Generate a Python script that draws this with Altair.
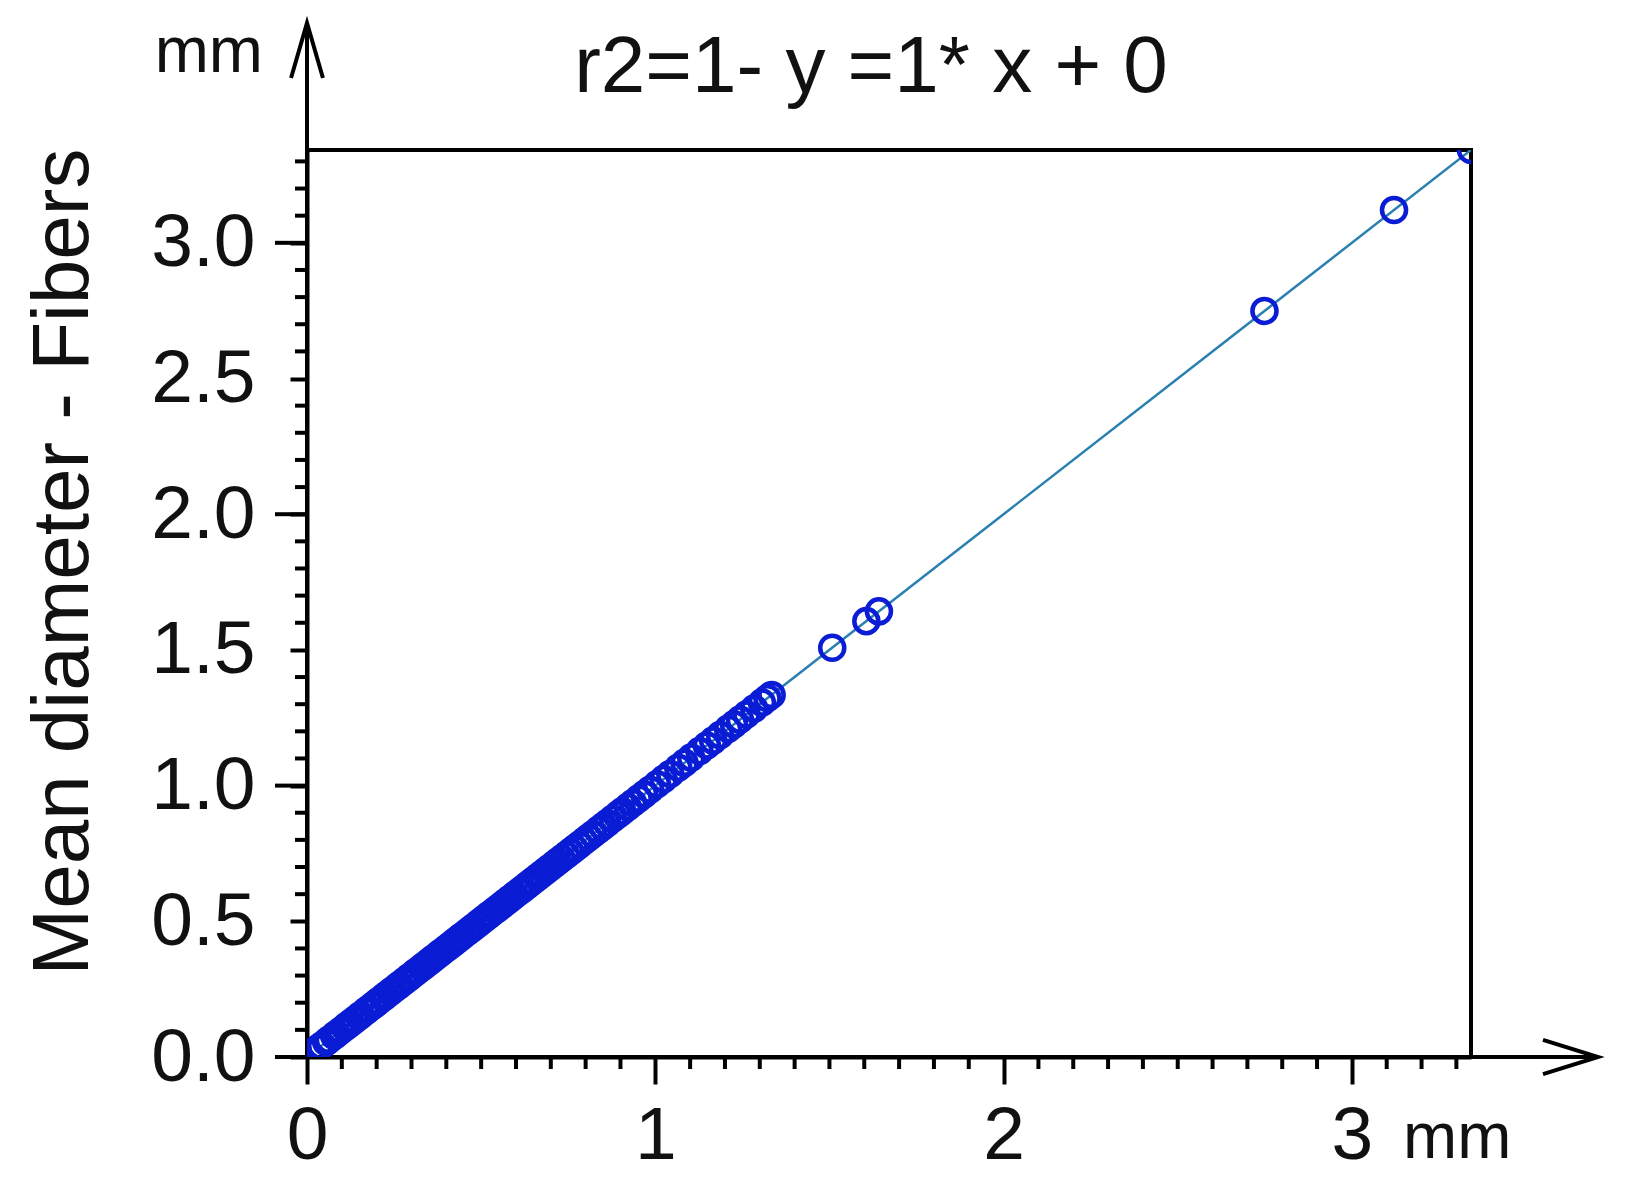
import altair as alt
import pandas as pd

# ---- data (mm) ----
x_mm = [0.032, 0.041, 0.055, 0.063, 0.078, 0.085, 0.097, 0.110, 0.118, 0.126,
        0.137, 0.149, 0.155, 0.168, 0.176, 0.189, 0.197, 0.205, 0.218, 0.226,
        0.238, 0.247, 0.259, 0.266, 0.278, 0.289, 0.296, 0.308, 0.317, 0.329,
        0.336, 0.348, 0.357, 0.366, 0.378, 0.386, 0.397, 0.408, 0.419, 0.427,
        0.438, 0.446, 0.459, 0.468, 0.477, 0.489, 0.497, 0.508, 0.519, 0.527,
        0.539, 0.548, 0.559, 0.568, 0.579, 0.588, 0.597, 0.609, 0.618, 0.629,
        0.638, 0.649, 0.661, 0.672, 0.684, 0.695, 0.708, 0.719, 0.731, 0.744,
        0.756, 0.768, 0.781, 0.795, 0.808, 0.821, 0.836, 0.849, 0.862, 0.878,
        0.893, 0.905, 0.921, 0.936, 0.952, 0.968, 0.985, 1.005, 1.024, 1.043,
        1.066, 1.084, 1.103, 1.127, 1.148, 1.166, 1.186, 1.209, 1.226, 1.243,
        1.262, 1.284, 1.306, 1.322, 1.334, 1.508, 1.606, 1.642, 2.749,
        3.121, 3.342]
y_mm = [0.032, 0.041, 0.055, 0.063, 0.078, 0.085, 0.097, 0.110, 0.118, 0.126,
        0.137, 0.149, 0.155, 0.168, 0.176, 0.189, 0.197, 0.205, 0.218, 0.226,
        0.238, 0.247, 0.259, 0.266, 0.278, 0.289, 0.296, 0.308, 0.317, 0.329,
        0.336, 0.348, 0.357, 0.366, 0.378, 0.386, 0.397, 0.408, 0.419, 0.427,
        0.438, 0.446, 0.459, 0.468, 0.477, 0.489, 0.497, 0.508, 0.519, 0.527,
        0.539, 0.548, 0.559, 0.568, 0.579, 0.588, 0.597, 0.609, 0.618, 0.629,
        0.638, 0.649, 0.661, 0.672, 0.684, 0.695, 0.708, 0.719, 0.731, 0.744,
        0.756, 0.768, 0.781, 0.795, 0.808, 0.821, 0.836, 0.849, 0.862, 0.878,
        0.893, 0.905, 0.921, 0.936, 0.952, 0.968, 0.985, 1.005, 1.024, 1.043,
        1.066, 1.084, 1.103, 1.127, 1.148, 1.166, 1.186, 1.209, 1.226, 1.243,
        1.262, 1.284, 1.306, 1.322, 1.334, 1.508, 1.606, 1.642, 2.749,
        3.121, 3.342]

x_label_values = [0, 1, 2, 3]
y_label_values = [0.0, 0.5, 1.0, 1.5, 2.0, 2.5, 3.0]
y_major_ticks = [0.0, 1.0, 2.0, 3.0]
x_minor_ticks = [0.1, 0.2, 0.3, 0.4, 0.5, 0.6, 0.7, 0.8, 0.9,
                 1.1, 1.2, 1.3, 1.4, 1.5, 1.6, 1.7, 1.8, 1.9,
                 2.1, 2.2, 2.3, 2.4, 2.5, 2.6, 2.7, 2.8, 2.9,
                 3.1, 3.2, 3.3]
y_minor_ticks = [0.1, 0.2, 0.3, 0.4, 0.6, 0.7, 0.8, 0.9,
                 1.1, 1.2, 1.3, 1.4, 1.6, 1.7, 1.8, 1.9,
                 2.1, 2.2, 2.3, 2.4, 2.6, 2.7, 2.8, 2.9,
                 3.1, 3.2, 3.3]
axis_max = 3.342

title_text = "r2=1- y =1* x + 0"
y_title_text = "Mean diameter - Fibers"
unit_text = "mm"

FONT = "Liberation Sans"
W, H = 1164, 907
POINT_COLOR = "#0a1cd4"
LINE_COLOR = "#2a80b0"

df = pd.DataFrame({"x": x_mm, "y": y_mm})
one = pd.DataFrame({"k": [0]})

xs = alt.Scale(domain=[0, axis_max], nice=False, zero=False)
ys = alt.Scale(domain=[0, axis_max], nice=False, zero=False)
x_axis = alt.Axis(values=x_label_values, format="d", tickSize=27,
                  labelPadding=15, labelFlush=False, grid=False)
y_axis = alt.Axis(values=y_label_values, format=".1f", tickSize=17,
                  labelPadding=35, labelFlush=False, grid=False)


def X(field):
    return alt.X(field, scale=xs, axis=x_axis, title=None)


def Y(field):
    return alt.Y(field, scale=ys, axis=y_axis, title=None)


fit = alt.Chart(df).transform_regression("x", "y").mark_line(
    color=LINE_COLOR, strokeWidth=2.5, clip=True
).encode(x=X("x:Q"), y=Y("y:Q"))

points = alt.Chart(df).mark_point(
    shape="circle", filled=False, size=580, strokeWidth=4.5,
    color=POINT_COLOR, opacity=1, clip=True
).encode(x=X("x:Q"), y=Y("y:Q"))

x_minor = alt.Chart(pd.DataFrame({"v": x_minor_ticks})).mark_rule(
    color="black", strokeWidth=4
).encode(x=X("v:Q"), y=alt.value(H), y2=alt.value(H + 12))

y_minor = alt.Chart(pd.DataFrame({"v": y_minor_ticks})).mark_rule(
    color="black", strokeWidth=4
).encode(y=Y("v:Q"), x=alt.value(-12), x2=alt.value(0))

y_major = alt.Chart(pd.DataFrame({"v": y_major_ticks})).mark_rule(
    color="black", strokeWidth=4
).encode(y=Y("v:Q"), x=alt.value(-32), x2=alt.value(0))

y_ext = alt.Chart(one).mark_rule(color="black", strokeWidth=4).encode(
    x=alt.value(0), y=alt.value(-127), y2=alt.value(0))
x_ext = alt.Chart(one).mark_rule(color="black", strokeWidth=4).encode(
    y=alt.value(H), x=alt.value(W), x2=alt.value(W + 127))

y_arrow = alt.Chart(one).mark_point(
    shape="M -0.29 1 L 0 0 L 0.29 1", size=12100, filled=False,
    strokeWidth=4, color="black", opacity=1
).encode(x=alt.value(0), y=alt.value(-127))
x_arrow = alt.Chart(one).mark_point(
    shape="M -1 -0.31 L 0 0 L -1 0.31", size=12100, filled=False,
    strokeWidth=4, color="black", opacity=1
).encode(x=alt.value(W + 127), y=alt.value(H))

title = alt.Chart(one).mark_text(
    text=title_text, font=FONT, fontSize=80, align="center",
    baseline="alphabetic", color="#111111"
).encode(x=alt.value(564), y=alt.value(-58))

y_title = alt.Chart(one).mark_text(
    text=y_title_text, font=FONT, fontSize=80, align="center",
    baseline="alphabetic", angle=270, color="#111111"
).encode(x=alt.value(-219), y=alt.value(412))

y_unit = alt.Chart(one).mark_text(
    text=unit_text, font=FONT, fontSize=65, align="right",
    baseline="alphabetic", color="#111111"
).encode(x=alt.value(-44), y=alt.value(-78))

x_unit = alt.Chart(one).mark_text(
    text=unit_text, font=FONT, fontSize=65, align="left",
    baseline="alphabetic", color="#111111"
).encode(x=alt.value(1096), y=alt.value(1008))

chart = alt.layer(
    fit, points, x_minor, y_minor, y_major, y_ext, x_ext, y_arrow, x_arrow,
    title, y_title, y_unit, x_unit
).properties(
    width=W, height=H,
    autosize=alt.AutoSizeParams(type="none"),
    padding={"left": 299, "top": 142, "right": 146, "bottom": 136},
    background="white",
).configure_view(
    stroke="black", strokeWidth=4
).configure_axis(
    labelFont=FONT, labelFontSize=75, labelColor="#111111",
    domainColor="black", domainWidth=4, tickColor="black", tickWidth=4,
    grid=False
)

chart.save("out.html", embed_options={"renderer": "svg", "actions": False})
